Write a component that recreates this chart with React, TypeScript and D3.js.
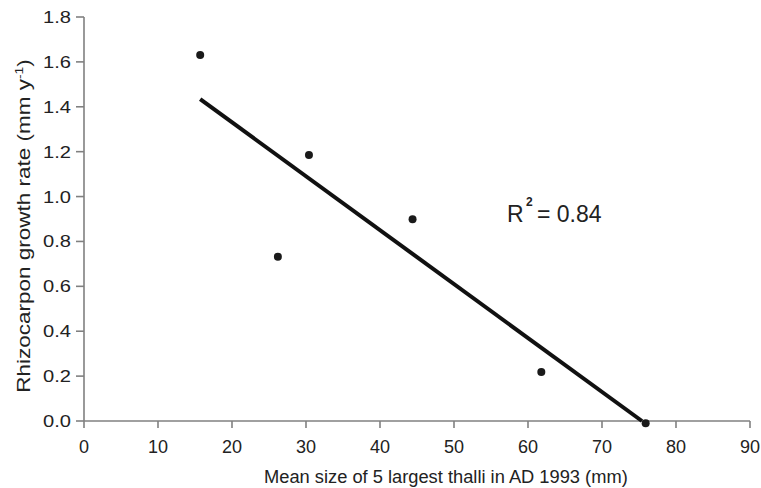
import React from "react";
import * as d3 from "d3";

const sizes = [15.7, 26.2, 30.4, 44.4, 61.8, 75.9];
const rates = [1.631, 0.732, 1.185, 0.899, 0.218, -0.01];
const fitX = [15.7, 75.4];
const fitY = [1.434, 0.0];
const xTicks = [0, 10, 20, 30, 40, 50, 60, 70, 80, 90];
const yTicks = [0, 0.2, 0.4, 0.6, 0.8, 1.0, 1.2, 1.4, 1.6, 1.8];

export default function App() {
  const W = 761, H = 488;
  const x = d3.scaleLinear().domain([0, 90]).range([84, 750]);
  const y = d3.scaleLinear().domain([0, 1.8]).range([421, 17]);
  const axis = "#808080";
  const txt = "#222";
  const font = "Liberation Sans, Arial, sans-serif";
  const line = d3.line<number>().x((d, i) => x(fitX[i])).y((d, i) => y(fitY[i]));
  return (
    <svg width={W} height={H} style={{ position: "absolute", left: 0, top: 0, background: "#fff" }} fontFamily={font}>
      <line x1={x(0)} x2={x(90)} y1={y(0)} y2={y(0)} stroke={axis} strokeWidth={1.6} />
      <line x1={x(0)} x2={x(0)} y1={y(0)} y2={y(1.8)} stroke={axis} strokeWidth={1.6} />
      {xTicks.map((t) => (
        <g key={"x" + t}>
          <line x1={x(t)} x2={x(t)} y1={y(0)} y2={y(0) + 7} stroke={axis} strokeWidth={1.6} />
          <text x={x(t)} y={453} textAnchor="middle" fontSize={18} fill={txt}>{t}</text>
        </g>
      ))}
      {yTicks.map((t) => (
        <g key={"y" + t}>
          <line x1={x(0) - 8} x2={x(0)} y1={y(t)} y2={y(t)} stroke={axis} strokeWidth={1.6} />
          <text transform={`translate(71,${y(t) + 6}) scale(1.22,1)`} textAnchor="end" fontSize={16.5} fill={txt}>{t.toFixed(1)}</text>
        </g>
      ))}
      <path d={line(fitX) || ""} fill="none" stroke="#111" strokeWidth={4} />
      {sizes.map((s, i) => (
        <circle key={i} cx={x(s)} cy={y(rates[i])} r={4} fill="#1a1a1a" />
      ))}
      <text x={264} y={483} fontSize={18.3} fill={txt}>Mean size of 5 largest thalli in AD 1993 (mm)</text>
      <text transform={`translate(30,226) rotate(-90) scale(1.25,1)`} textAnchor="middle" fontSize={18} fill={txt}>
        Rhizocarpon growth rate (mm y<tspan dy={-7} fontSize={11}>-1</tspan><tspan dy={7}>)</tspan>
      </text>
      <text x={507} y={222} fontSize={23} fill={txt}>R</text>
      <text x={526} y={206} fontSize={12} fontWeight="bold" fill={txt}>2</text>
      <text x={537} y={222} fontSize={23} fill={txt}>= 0.84</text>
    </svg>
  );
}
